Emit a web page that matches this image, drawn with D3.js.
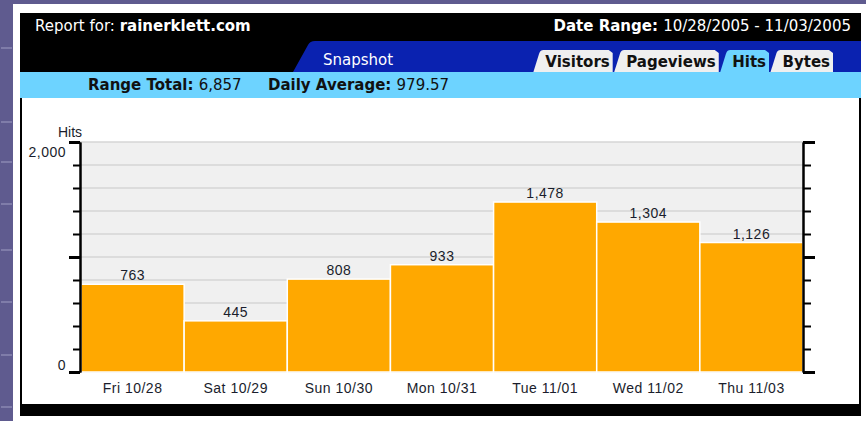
<!DOCTYPE html>
<html>
<head>
<meta charset="utf-8">
<script src="https://cdn.jsdelivr.net/npm/d3@7"></script>
<style>
  html, body { margin: 0; padding: 0; overflow: hidden; background: #5f5b8f; }
</style>
</head>
<body>
<div id="chart"></div>
<script>
// --- data
const site = 'rainerklett.com';
const dateRange = '10/28/2005 - 11/03/2005';
const tabs = ['Visitors', 'Pageviews', 'Hits', 'Bytes'];
const activeTab = 'Hits';
const days = ['Fri 10/28', 'Sat 10/29', 'Sun 10/30', 'Mon 10/31', 'Tue 11/01', 'Wed 11/02', 'Thu 11/03'];
const hits = [763, 445, 808, 933, 1478, 1304, 1126];
const yMax = 2000;
const yMinorStep = 200;
const yMajorTicks = [0, 1000, 2000];
const yLabelTicks = [0, 2000];

function drawReport(target) {
  const width = 866;
  const height = 421;

  // --- colours
  const purple = '#5f5b8f';
  const darkBlue = '#0a22b0';
  const lightBlue = '#6dd3ff';
  const tabGray = '#efefef';
  const barColor = '#ffa800';
  const plotBg = '#f0f0f0';
  const gridColor = '#d6d6d6';
  const textDark = '#1a1d2c';

  const headFont = '"DejaVu Sans", Verdana, sans-serif';
  const chartFont = '"Liberation Sans", Arial, Helvetica, sans-serif';

  const svg = d3.select(target)
    .append('svg')
    .attr('width', width)
    .attr('height', height)
    .attr('viewBox', [0, 0, width, height]);

  // --- page background with its faint stripes
  svg.append('rect')
    .attr('width', width).attr('height', height)
    .attr('fill', purple);

  svg.append('g')
    .attr('stroke', '#7f7ca9')
    .attr('stroke-width', 2)
    .selectAll('line')
    .data([48, 122, 162, 204, 250, 302, 355, 407])
    .join('line')
      .attr('x1', 1).attr('x2', 12)
      .attr('y1', d => d).attr('y2', d => d);

  // --- white sheet + black frame
  svg.append('rect')
    .attr('x', 13).attr('y', 4)
    .attr('width', width - 13).attr('height', height - 4)
    .attr('fill', '#ffffff');

  svg.append('rect')
    .attr('x', 20).attr('y', 13)
    .attr('width', 841).attr('height', 403)
    .attr('fill', '#000000');

  // blue "Snapshot" tab strip
  svg.append('path')
    .attr('d', 'M293,72 L308,45 Q310,41 315,41 L861,41 L861,72 Z')
    .attr('fill', darkBlue);

  // light blue summary band
  svg.append('rect')
    .attr('x', 20).attr('y', 72)
    .attr('width', 841).attr('height', 26)
    .attr('fill', lightBlue);

  // white chart area inside the frame
  svg.append('rect')
    .attr('x', 22).attr('y', 98)
    .attr('width', 837).attr('height', 306)
    .attr('fill', '#ffffff');

  // --- header texts
  const reportText = svg.append('text')
    .attr('x', 35).attr('y', 31)
    .attr('fill', '#ffffff')
    .attr('font-family', headFont)
    .attr('font-size', 15);
  reportText.append('tspan').text('Report for: ');
  reportText.append('tspan').attr('font-weight', 'bold').text(site);

  const rangeText = svg.append('text')
    .attr('x', 851).attr('y', 31)
    .attr('text-anchor', 'end')
    .attr('fill', '#ffffff')
    .attr('font-family', headFont)
    .attr('font-size', 15);
  rangeText.append('tspan').attr('font-weight', 'bold').text('Date Range: ');
  rangeText.append('tspan').text(dateRange);

  svg.append('text')
    .attr('x', 323).attr('y', 65)
    .attr('fill', '#ffffff')
    .attr('font-family', headFont)
    .attr('font-size', 15)
    .text('Snapshot');

  // --- tabs, laid out from the right
  const tabG = svg.append('g');
  const tabLabels = tabG.selectAll('text')
    .data(tabs)
    .join('text')
      .attr('y', 67)
      .attr('fill', '#111111')
      .attr('font-family', headFont)
      .attr('font-size', 15)
      .attr('font-weight', 'bold')
      .text(d => d);

  let right = 833;
  const tabBoxes = [];
  tabLabels.nodes().reverse().forEach((node) => {
    const w = node.getComputedTextLength() + 15;
    const x = right - w;
    tabBoxes.unshift({ name: node.textContent, x, w });
    d3.select(node).attr('x', x + 12);
    right = x - 1.5;
  });

  tabG.selectAll('path')
    .data(tabBoxes)
    .join('path')
      .attr('d', d => `M${d.x},72 L${d.x + 6},53 Q${d.x + 7},50 ${d.x + 10},50 L${d.x + d.w - 4},50 L${d.x + d.w},53 L${d.x + d.w},72 Z`)
      .attr('fill', d => d.name === activeTab ? lightBlue : tabGray)
      .lower();

  // --- summary band
  const total = d3.sum(hits);
  const average = total / hits.length;

  const totalText = svg.append('text')
    .attr('x', 88).attr('y', 90)
    .attr('fill', '#111111')
    .attr('font-family', headFont)
    .attr('font-size', 15);
  totalText.append('tspan').attr('font-weight', 'bold').text('Range Total: ');
  totalText.append('tspan').text(d3.format(',')(total));

  const avgText = svg.append('text')
    .attr('x', 268).attr('y', 90)
    .attr('fill', '#111111')
    .attr('font-family', headFont)
    .attr('font-size', 15);
  avgText.append('tspan').attr('font-weight', 'bold').text('Daily Average: ');
  avgText.append('tspan').text(d3.format(',.2f')(average));

  // --- scales
  const plotLeft = 80;
  const plotRight = 803;
  const plotTop = 142;
  const plotBottom = 372;

  const x = d3.scaleBand()
    .domain(days)
    .range([plotLeft + 1, plotRight])
    .padding(0);

  const y = d3.scaleLinear()
    .domain([0, yMax])
    .range([plotBottom, plotTop]);

  const minorTicks = d3.range(0, yMax + 1, yMinorStep);

  // plot background + grid
  svg.append('rect')
    .attr('x', plotLeft).attr('y', plotTop)
    .attr('width', plotRight - plotLeft).attr('height', plotBottom - plotTop)
    .attr('fill', plotBg);

  svg.append('g')
    .attr('stroke', gridColor)
    .attr('stroke-width', 1.5)
    .selectAll('line')
    .data(minorTicks)
    .join('line')
      .attr('x1', plotLeft).attr('x2', plotRight)
      .attr('y1', d => y(d)).attr('y2', d => y(d));

  // --- bars
  svg.append('g')
    .selectAll('rect')
    .data(hits)
    .join('rect')
      .attr('x', (d, i) => x(days[i]))
      .attr('y', d => y(d))
      .attr('width', x.bandwidth())
      .attr('height', d => y(0) - y(d))
      .attr('fill', barColor)
      .attr('stroke', '#ffffff')
      .attr('stroke-width', 1.5);

  // value labels
  svg.append('g')
    .selectAll('text')
    .data(hits)
    .join('text')
      .attr('x', (d, i) => x(days[i]) + x.bandwidth() / 2)
      .attr('y', d => y(d) - 4)
      .attr('text-anchor', 'middle')
      .attr('fill', textDark)
      .attr('font-family', chartFont)
      .attr('font-size', 14)
      .attr('letter-spacing', 0.5)
      .text(d => d3.format(',')(d));

  // x labels
  svg.append('g')
    .selectAll('text')
    .data(days)
    .join('text')
      .attr('x', d => x(d) + x.bandwidth() / 2)
      .attr('y', 393)
      .attr('text-anchor', 'middle')
      .attr('fill', textDark)
      .attr('font-family', chartFont)
      .attr('font-size', 14)
      .attr('letter-spacing', 0.5)
      .text(d => d);

  // --- axes: minor ticks, then major ticks on both sides
  const styleAxis = (g, w) => {
    g.select('.domain').attr('stroke', '#000').attr('stroke-width', 2);
    g.selectAll('.tick line').attr('stroke', '#000').attr('stroke-width', w);
  };

  svg.append('g')
    .attr('transform', `translate(${plotLeft},0)`)
    .call(d3.axisLeft(y).tickValues(minorTicks).tickSize(7).tickSizeOuter(0).tickFormat(''))
    .call(g => styleAxis(g, 2));

  const leftMajor = svg.append('g')
    .attr('transform', `translate(${plotLeft},0)`)
    .call(d3.axisLeft(y).tickValues(yMajorTicks).tickSize(11).tickSizeOuter(0)
      .tickFormat(d => yLabelTicks.includes(d) ? d3.format(',')(d) : ''))
    .call(g => styleAxis(g, 3));

  leftMajor.selectAll('.tick text')
    .attr('x', -14)
    .attr('dy', d => d === yMax ? '1.05em' : '-0.2em')
    .attr('fill', textDark)
    .attr('font-family', chartFont)
    .attr('font-size', 14)
    .attr('letter-spacing', 0.5);

  svg.append('g')
    .attr('transform', `translate(${plotRight},0)`)
    .call(d3.axisRight(y).tickValues(minorTicks).tickSize(8).tickSizeOuter(0).tickFormat(''))
    .call(g => styleAxis(g, 2));

  svg.append('g')
    .attr('transform', `translate(${plotRight},0)`)
    .call(d3.axisRight(y).tickValues(yMajorTicks).tickSize(12).tickSizeOuter(0).tickFormat(''))
    .call(g => styleAxis(g, 3));

  // axis title
  svg.append('text')
    .attr('x', 70).attr('y', 137)
    .attr('text-anchor', 'middle')
    .attr('fill', textDark)
    .attr('font-family', chartFont)
    .attr('font-size', 14)
    .text('Hits');
}

drawReport('#chart');
</script>
</body>
</html>
